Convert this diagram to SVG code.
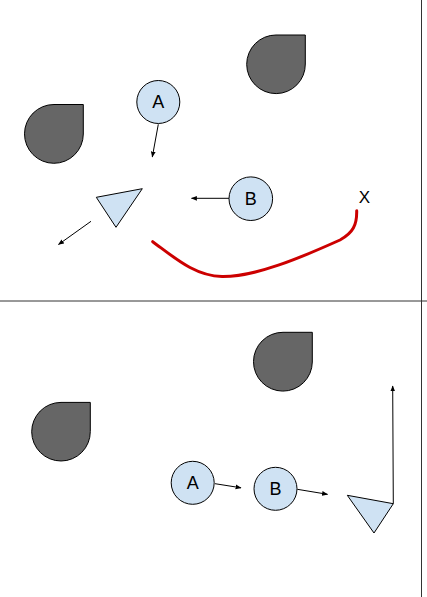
<svg xmlns="http://www.w3.org/2000/svg" width="427" height="597" viewBox="0 0 427 597">
<defs>
<style>
.drop{fill:#666666;stroke:#000;stroke-width:1}
.node{fill:#cfe2f3;stroke:#000;stroke-width:1}
.edge{stroke:#000;stroke-width:1;fill:none;marker-end:url(#ah)}
.lbl{font-family:"Liberation Sans",Arial,sans-serif;font-size:18px;fill:#000;text-anchor:middle;dominant-baseline:central}
.frame{stroke:#333;stroke-width:1;fill:none}
</style>
<marker id="ah" viewBox="0 0 10 10" refX="9" refY="5" markerWidth="6" markerHeight="6" orient="auto" markerUnits="userSpaceOnUse">
<path d="M0,1 L10,5 L0,9 Z" fill="#000"/>
</marker>
</defs>
<rect width="427" height="597" fill="#fff"/>
<g id="frame">
<line class="frame" x1="0" y1="301" x2="427" y2="301"/>
<line class="frame" x1="421.5" y1="0" x2="421.5" y2="597"/>
</g>
<g id="top-drop1"><path class="drop" d="M276,35 L305.3,35 L305.3,64 A29.3,29.3 0 1 1 276,35 Z"/></g>
<g id="top-drop2"><path class="drop" d="M54,104.5 L83.3,104.5 L83.3,134 A29.4,29.4 0 1 1 54,104.5 Z"/></g>
<g id="top-A"><circle class="node" cx="158.3" cy="102" r="21.5"/><text class="lbl" x="158.3" y="102">A</text></g>
<g id="top-B"><circle class="node" cx="250.8" cy="198.7" r="21.8"/><text class="lbl" x="250.8" y="199">B</text></g>
<g id="top-tri"><polygon class="node" points="96.3,197.3 142.3,188.7 116,227.3"/></g>
<g id="top-X"><text class="lbl" x="364.3" y="197.5" style="font-size:17px">X</text></g>
<g id="bot-drop1"><path class="drop" d="M283,332.3 L312.3,332.3 L312.3,362 A29.4,29.4 0 1 1 283,332.3 Z"/></g>
<g id="bot-drop2"><path class="drop" d="M61,402.4 L90.3,402.4 L90.3,431.5 A29.3,29.3 0 1 1 61,402.4 Z"/></g>
<g id="bot-A"><circle class="node" cx="192.7" cy="482.8" r="21.5"/><text class="lbl" x="192.7" y="483">A</text></g>
<g id="bot-B"><circle class="node" cx="275.5" cy="488.8" r="21.5"/><text class="lbl" x="275.5" y="489">B</text></g>
<g id="bot-tri"><polygon class="node" points="347.3,495.3 393.3,503.7 374,533"/></g>
<g id="connectors">
<line class="edge" x1="158.3" y1="124.3" x2="152.3" y2="157"/>
<line class="edge" x1="229" y1="198.3" x2="191.5" y2="198.3"/>
<line class="edge" x1="91" y1="221.3" x2="58.5" y2="244.5"/>
<line class="edge" x1="215" y1="483.7" x2="241" y2="487.8"/>
<line class="edge" x1="297.3" y1="489.3" x2="327.5" y2="494.3"/>
<line class="edge" x1="393.3" y1="503.7" x2="392.7" y2="386"/>
<path d="M152.7,241.7 C175,258 195,276 222,276.5 C255,277 300,258 340,240 C353,233 357,225 356.7,210.7" fill="none" stroke="#cc0000" stroke-width="3" stroke-linecap="round"/>
</g>
</svg>
